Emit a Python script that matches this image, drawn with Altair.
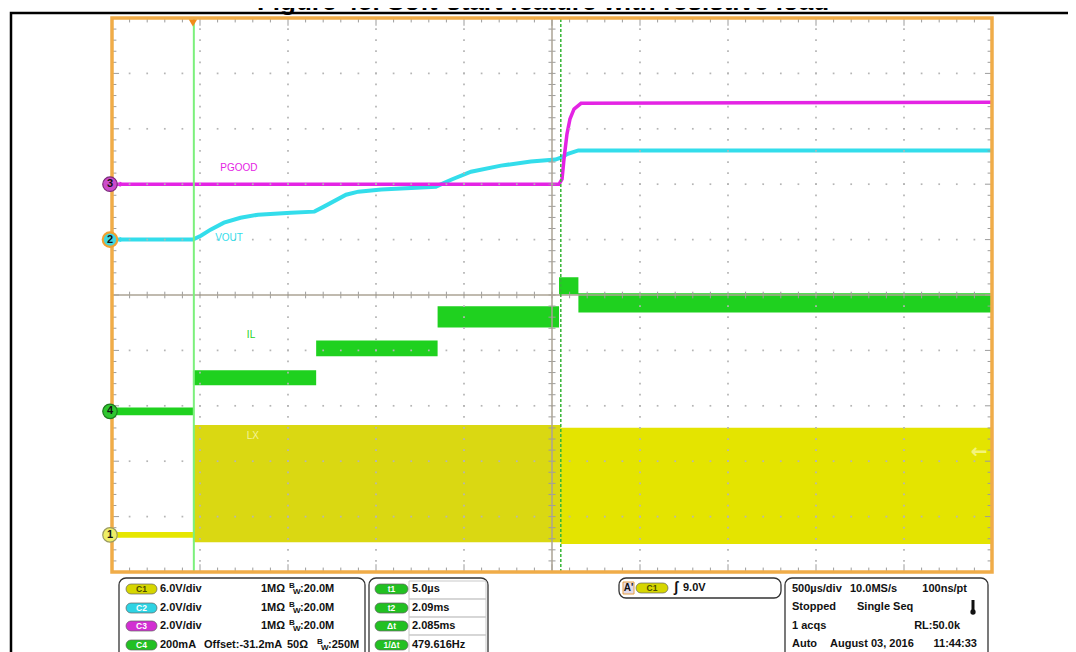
import altair as alt
import pandas as pd

# ---------------- data ----------------
TITLE = "Figure 45. Soft-start feature with resistive load"

T_MIN, T_MAX = -0.46, 4.54          # ms : 500 µs/div x 10 div, trigger at t = 0
T_CENTER = (T_MIN + T_MAX) / 2
T1, T2 = 0.005, 2.09                # cursor positions (ms)

CH_GND = {"C1": -4.33, "C2": 1.0, "C3": 2.0, "C4": -2.1}   # ground marker (div)
CH_DIV = {"C1": 6.0, "C2": 2.0, "C3": 2.0, "C4": 200.0}     # units per div
TRIG_LEVEL_V = 9.0                                            # C1 trigger level

# VOUT (C2, V)
vout_t = [-0.46, 0.0, 0.045, 0.10, 0.176, 0.27, 0.37, 0.557, 0.69, 0.744, 0.87,
          0.94, 1.07, 1.38, 1.47, 1.58, 1.75, 1.92, 2.06, 2.09, 2.13, 2.19, 4.54]
vout_v = [0.0, 0.0, 0.14, 0.36, 0.61, 0.79, 0.90, 0.97, 1.01, 1.19, 1.62,
          1.73, 1.81, 1.91, 2.17, 2.45, 2.67, 2.82, 2.89, 2.96, 3.10, 3.22, 3.22]

# PGOOD (C3, V)
pgood_t = [-0.46, 2.08, 2.097, 2.108, 2.125, 2.142, 2.165, 2.205, 4.54]
pgood_v = [0.0, 0.0, 0.18, 0.90, 1.81, 2.35, 2.71, 2.92, 2.96]

# IL (C4, mA) ripple band, step segments
il_t = [-0.46, 0.0, 0.70, 1.39, 2.08, 2.19, 4.54]
il_lo = [-14, 94, 199, 303, 422, 357, 357]
il_hi = [14, 148, 256, 379, 484, 426, 426]

# LX (C1, V) switching envelope
lx_t = [-0.46, 0.0, 2.09, 4.54]
lx_lo = [-0.3, -0.8, -1.0]
lx_hi = [0.3, 11.9, 11.6]
LX_COLORS = ["#E6E600", "#DAD812", "#E4E400"]

# info panel text
ch_names = ["C1", "C2", "C3", "C4"]
ch_pill_colors = ["#D6D600", "#2ED3E3", "#D22FD2", "#22C022"]
ch_pill_text = ["#4A4A00", "#FFFFFF", "#FFFFFF", "#FFFFFF"]
ch_scale_txt = ["6.0V/div", "2.0V/div", "2.0V/div", "200mA"]
ch_imp = ["1MΩ", "1MΩ", "1MΩ", "50Ω"]
ch_bw = [":20.0M", ":20.0M", ":20.0M", ":250M"]
offset_txt = "Offset:-31.2mA"
cur_labels = ["t1", "t2", "Δt", "1/Δt"]
cur_values = ["5.0µs", "2.09ms", "2.085ms", "479.616Hz"]
trig_txt = "9.0V"
acq_left = ["500µs/div", "Stopped", "1 acqs", "Auto"]
acq_mid = ["10.0MS/s", "Single Seq", "", "August 03, 2016"]
acq_right = ["100ns/pt", "", "RL:50.0k", "11:44:33"]

# ---------------- build tables ----------------
def to_div(ch, vals):
    return [CH_GND[ch] + v / CH_DIV[ch] for v in vals]

vout_df = pd.DataFrame({"t": vout_t, "d": to_div("C2", vout_v)})
pgood_df = pd.DataFrame({"t": pgood_t, "d": to_div("C3", pgood_v)})
il_df = pd.DataFrame({"t": il_t, "lo": to_div("C4", il_lo), "hi": to_div("C4", il_hi)})
lx_rows = []
for i in range(len(lx_lo)):
    for t in (lx_t[i], lx_t[i + 1]):
        lx_rows.append({"t": t, "lo": CH_GND["C1"] + lx_lo[i] / 6.0,
                        "hi": CH_GND["C1"] + lx_hi[i] / 6.0, "seg": i, "col": LX_COLORS[i]})
lx_df = pd.DataFrame(lx_rows)

XS = alt.Scale(domain=[T_MIN, T_MAX], nice=False, zero=False)
YS = alt.Scale(domain=[-5, 5], nice=False, zero=False)
PX = alt.Scale(domain=[112, 992], nice=False, zero=False)             # page pixels
PY = alt.Scale(domain=[18, 572], nice=False, zero=False, reverse=True)

def xq(f="t"):
    return alt.X(f"{f}:Q", scale=XS, axis=None)

def yq(f="d"):
    return alt.Y(f"{f}:Q", scale=YS, axis=None)

def px(f="x"):
    return alt.X(f"{f}:Q", scale=PX, axis=None)

def py(f="y"):
    return alt.Y(f"{f}:Q", scale=PY, axis=None)

# graticule
dots = []
for k in range(5, 50, 5):
    if k == 25:
        continue
    for j in range(1, 50):
        dots.append({"t": T_MIN + 0.1 * j, "d": -5 + 0.2 * k})
        dots.append({"t": T_MIN + 0.1 * k, "d": -5 + 0.2 * j})
dots_df = pd.DataFrame(dots)

ticks = []
for j in range(1, 50):
    tk = T_MIN + 0.1 * j
    L = 0.14 if j % 5 == 0 else 0.08
    ticks.append({"t": tk, "t2": tk, "a": 5, "b": 5 - L})
    ticks.append({"t": tk, "t2": tk, "a": -5, "b": -5 + L})
    ticks.append({"t": tk, "t2": tk, "a": -0.06, "b": 0.06})
for j in range(1, 50):
    dk = -5 + 0.2 * j
    Lt = 0.04 if j % 5 == 0 else 0.025
    ticks.append({"t": T_MIN, "t2": T_MIN + Lt, "a": dk, "b": dk})
    ticks.append({"t": T_MAX - Lt, "t2": T_MAX, "a": dk, "b": dk})
    ticks.append({"t": T_CENTER - 0.02, "t2": T_CENTER + 0.02, "a": dk, "b": dk})
ticks_df = pd.DataFrame(ticks)
center_df = pd.DataFrame({"t": [T_MIN, T_CENTER], "t2": [T_MAX, T_CENTER],
                          "a": [0, -5], "b": [0, 5]})

layers = []

# traces
layers.append(alt.Chart(lx_df).mark_area(opacity=1).encode(
    x=xq(), y=yq("lo"), y2="hi:Q", detail="seg:N", color=alt.Color("col:N", scale=None)))
layers.append(alt.Chart(il_df).mark_area(interpolate="step-after", color="#1FD11F").encode(
    x=xq(), y=yq("lo"), y2="hi:Q"))
layers.append(alt.Chart(vout_df).mark_line(color="#33DDEB", strokeWidth=4).encode(x=xq(), y=yq()))
layers.append(alt.Chart(pgood_df).mark_line(color="#E424E4", strokeWidth=3.5).encode(x=xq(), y=yq()))

# graticule on top
layers.append(alt.Chart(dots_df).mark_square(size=3, color="#B5B5B5", opacity=1).encode(x=xq(), y=yq()))
layers.append(alt.Chart(ticks_df).mark_rule(color="#9C9C9C", strokeWidth=1).encode(
    x=xq(), x2="t2:Q", y=yq("a"), y2="b:Q"))
layers.append(alt.Chart(center_df).mark_rule(color="#ABA394", strokeWidth=1.5).encode(
    x=xq(), x2="t2:Q", y=yq("a"), y2="b:Q"))

# cursors
cur_df = pd.DataFrame({"t": [T1], "a": [-5], "b": [5]})
layers.append(alt.Chart(cur_df).mark_rule(color="#7CF07C", strokeWidth=2).encode(
    x=xq(), y=yq("a"), y2="b:Q"))
cur2_df = pd.DataFrame({"t": [T2], "a": [-5], "b": [5]})
layers.append(alt.Chart(cur2_df).mark_rule(color="#35B535", strokeWidth=1.5, strokeDash=[3, 2]).encode(
    x=xq(), y=yq("a"), y2="b:Q"))

# screen border
border_df = pd.DataFrame({"t": [T_MIN], "t2": [T_MAX], "a": [-5], "b": [5]})
layers.append(alt.Chart(border_df).mark_rect(fillOpacity=0, stroke="#F0AC48", strokeWidth=3.5).encode(
    x=xq(), x2="t2:Q", y=yq("a"), y2="b:Q"))

# trigger position marker and trigger level arrow
layers.append(alt.Chart(pd.DataFrame({"t": [0.0]})).mark_point(
    shape="triangle-down", filled=True, color="#F08C1A", size=70, opacity=1).encode(
    x=xq(), y=alt.value(5)))
layers.append(alt.Chart(pd.DataFrame({"d": [CH_GND["C1"] + TRIG_LEVEL_V / 6.0]})).mark_text(
    text="←", fontSize=20, color="#F4F47A", font="DejaVu Sans", fontWeight="bold").encode(
    x=alt.value(867), y=yq()))

# channel ground markers
mk_df = pd.DataFrame({
    "n": ["3", "2", "4", "1"],
    "d": [CH_GND["C3"], CH_GND["C2"], CH_GND["C4"], CH_GND["C1"]],
    "fill": ["#CC4ACC", "#3ED6E0", "#2FC72F", "#EEEE66"],
    "ring": ["#7A2A7A", "#F0A030", "#1E7A1E", "#9A9A60"],
    "sw": [1.2, 2.2, 1.2, 1.2],
    "tri": ["#E424E4", "#33DDEB", "#1FD11F", "#E6E600"],
})
layers.append(alt.Chart(mk_df).mark_point(shape="triangle-right", filled=True, size=30, opacity=1).encode(
    x=alt.value(10), y=yq(), color=alt.Color("tri:N", scale=None)))
layers.append(alt.Chart(mk_df).mark_point(shape="circle", filled=True, size=210, opacity=1).encode(
    x=alt.value(-2), y=yq(), color=alt.Color("fill:N", scale=None),
    stroke=alt.Stroke("ring:N", scale=None), strokeWidth=alt.StrokeWidth("sw:Q", scale=None)))
layers.append(alt.Chart(mk_df).mark_text(fontSize=11, fontWeight="bold", color="#111111",
                                         font="Liberation Sans").encode(
    x=alt.value(-2), y=yq(), text="n:N"))

# trace labels
lab_df = pd.DataFrame({
    "text": ["PGOOD", "VOUT", "IL", "LX"],
    "t": [0.261, 0.205, 0.33, 0.34],
    "d": [2.29, 1.03, -0.72, -2.55],
    "col": ["#E424E4", "#33DDEB", "#1FD11F", "#F4F49A"],
})
layers.append(alt.Chart(lab_df).mark_text(fontSize=10, font="Liberation Sans Narrow, Liberation Sans").encode(
    x=xq(), y=yq(), text="text:N", color=alt.Color("col:N", scale=None)))

# ---------------- page decoration / info panel (page pixel layout) ----------------
frame_df = pd.DataFrame({"x": [11], "x2": [1200], "y": [13], "y2": [800]})
layers.append(alt.Chart(frame_df).mark_rect(fillOpacity=0, stroke="#000000", strokeWidth=2.5).encode(
    x=px(), x2="x2:Q", y=py(), y2="y2:Q"))

layers.append(alt.Chart(pd.DataFrame({"x": [543], "y": [10], "text": [TITLE]})).mark_text(
    fontSize=26, fontWeight="bold", font="Liberation Sans", baseline="alphabetic", color="#000000").encode(
    x=px(), y=py(), text="text:N"))

boxes_df = pd.DataFrame({"x": [119, 369, 619, 785], "x2": [365, 488, 781, 988],
                         "y": [578, 578, 578, 578], "y2": [700, 700, 598, 700]})
layers.append(alt.Chart(boxes_df).mark_rect(fill="#FFFFFF", stroke="#333333", strokeWidth=1.3,
                                            cornerRadius=7).encode(
    x=px(), x2="x2:Q", y=py(), y2="y2:Q"))

row_y = [589, 608, 626, 645]
cells_df = pd.DataFrame({"x": [409] * 4, "x2": [486] * 4,
                         "y": [581, 599, 617, 635], "y2": [599, 617, 635, 653]})
layers.append(alt.Chart(cells_df).mark_rect(fillOpacity=0, stroke="#C9C9C9", strokeWidth=1).encode(
    x=px(), x2="x2:Q", y=py(), y2="y2:Q"))

pills = []
for i in range(4):
    pills.append({"x": 126, "x2": 157, "y": row_y[i] - 5, "y2": row_y[i] + 5, "cy": row_y[i],
                  "col": ch_pill_colors[i], "tc": ch_pill_text[i], "text": ch_names[i], "cx": 141.5})
    pills.append({"x": 375, "x2": 408, "y": row_y[i] - 5, "y2": row_y[i] + 5, "cy": row_y[i],
                  "col": "#22C022", "tc": "#FFFFFF", "text": cur_labels[i], "cx": 391.5})
pills.append({"x": 636, "x2": 668, "y": 583, "y2": 593, "cy": 588, "col": ch_pill_colors[0],
              "tc": ch_pill_text[0], "text": ch_names[0], "cx": 652})
pills_df = pd.DataFrame(pills)
layers.append(alt.Chart(pills_df).mark_rect(cornerRadius=5, stroke="#666666", strokeWidth=0.7).encode(
    x=px(), x2="x2:Q", y=py(), y2="y2:Q", color=alt.Color("col:N", scale=None)))
layers.append(alt.Chart(pills_df).mark_text(fontSize=8.5, fontWeight="bold", font="Liberation Sans",
                                            baseline="middle").encode(
    x=px("cx"), y=py("cy"), text="text:N", color=alt.Color("tc:N", scale=None)))

# A' trigger source box
layers.append(alt.Chart(pd.DataFrame({"x": [623], "x2": [634], "y": [582], "y2": [594]})).mark_rect(
    fill="#E2DAEA", stroke="#E8A040", strokeWidth=1).encode(x=px(), x2="x2:Q", y=py(), y2="y2:Q"))

txt = []
def add(x, y, s, size=11, align="left", col="#111111"):
    txt.append({"x": x, "y": y, "text": s, "fs": size, "al": align, "col": col})

for i in range(4):
    y = row_y[i]
    add(160, y, ch_scale_txt[i])
    bx = 289 if i < 3 else 317
    add(261 if i < 3 else 287, y, ch_imp[i])
    add(bx, y - 3, "B", 8)
    add(bx + 4, y + 3, "W", 8)
    add(bx + 11, y, ch_bw[i])
    add(412, y, cur_values[i])
add(204, row_y[3], offset_txt)
add(628.5, 588, "A'", 10, "center")
add(676, 588, "ʃ", 14, "center")
add(683, 588, trig_txt)
acq_y = [589, 607, 626, 644]
acq_mid_x = [850, 857, 850, 830]
acq_right_x = [967, 967, 960, 977]
for i in range(4):
    add(792, acq_y[i], acq_left[i])
    if acq_mid[i]:
        add(acq_mid_x[i], acq_y[i], acq_mid[i])
    if acq_right[i]:
        add(acq_right_x[i], acq_y[i], acq_right[i], 11, "right")
txt_df = pd.DataFrame(txt)
for al in ["left", "center", "right"]:
    sub = txt_df[txt_df["al"] == al]
    layers.append(alt.Chart(sub).mark_text(align=al, baseline="middle", fontWeight="bold",
                                           font="Liberation Sans").encode(
        x=px(), y=py(), text="text:N", size=alt.Size("fs:Q", scale=None),
        color=alt.Color("col:N", scale=None)))

# thermometer-like status glyph
layers.append(alt.Chart(pd.DataFrame({"x": [973], "y": [600], "y2": [611]})).mark_rule(
    color="#111111", strokeWidth=3).encode(x=px(), y=py(), y2="y2:Q"))
layers.append(alt.Chart(pd.DataFrame({"x": [973], "y": [612]})).mark_point(
    shape="circle", filled=True, size=28, color="#111111", opacity=1).encode(x=px(), y=py()))

chart = alt.layer(*layers).resolve_scale(x="independent", y="independent").properties(
    width=880, height=554,
    autosize=alt.AutoSizeParams(type="none"),
    padding={"left": 104, "top": 10, "right": 76, "bottom": 80},
    background="#FFFFFF",
).configure_view(strokeWidth=0)

chart.save("out.html", embed_options={"renderer": "svg", "actions": False})
